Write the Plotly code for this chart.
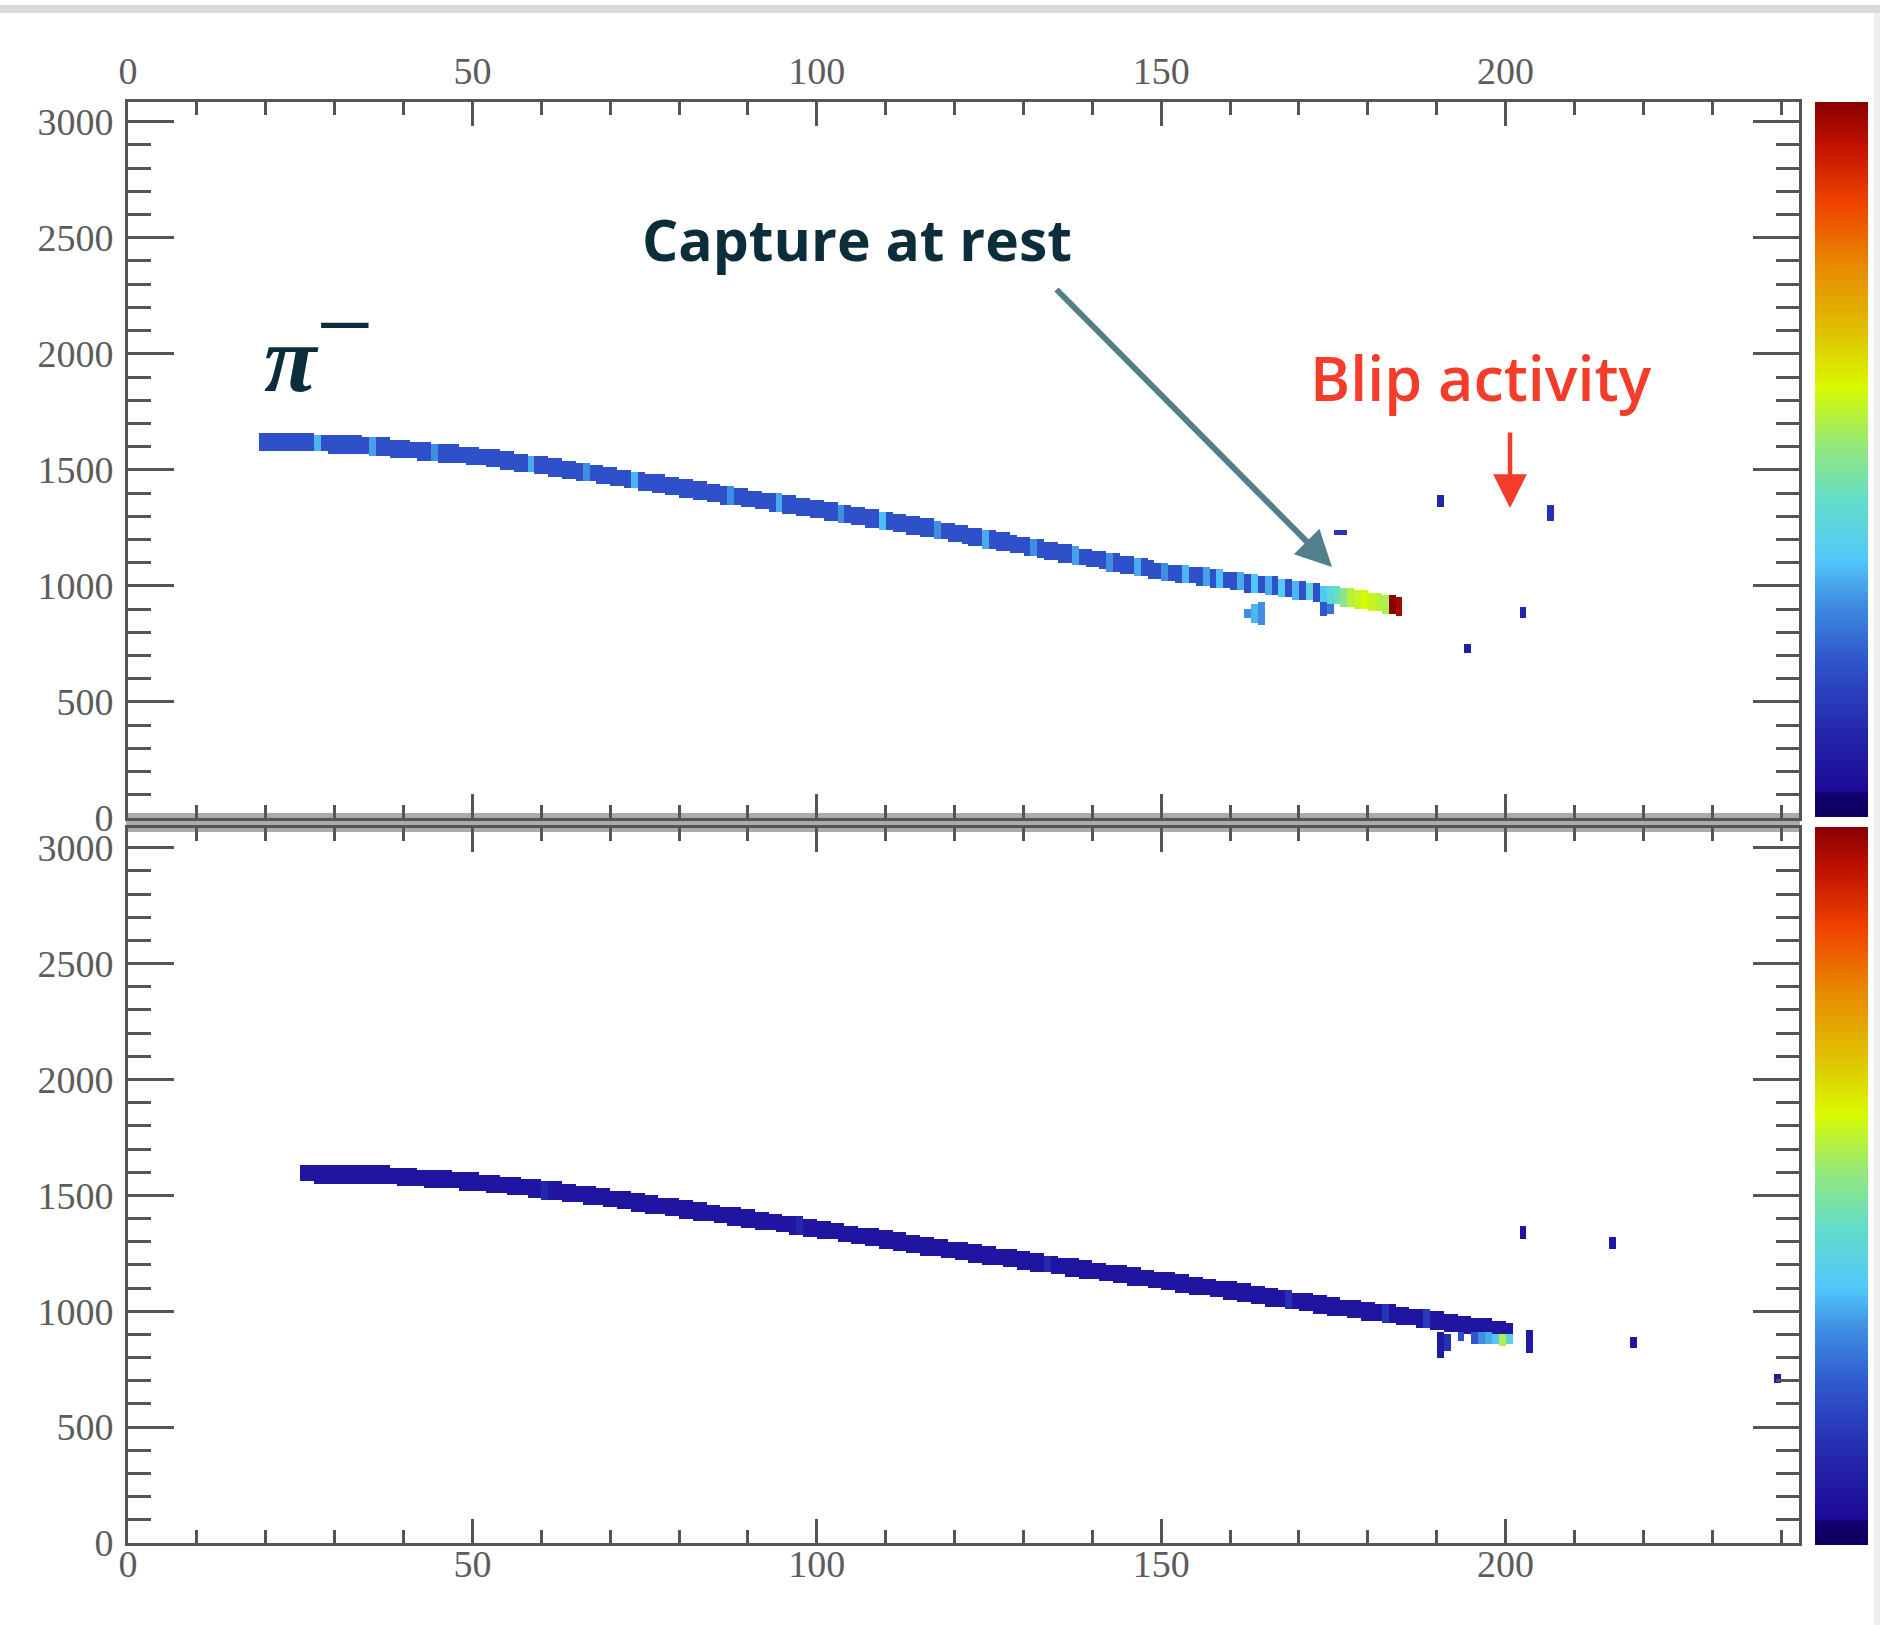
import plotly.graph_objects as go

W, H = 1880, 1625

# ---------------- data ----------------
# Upper view: one hit per wire along the pi- track (wire -> drift tick of hit centre)
top_wires = list(range(19, 185))
top_ticks = [
    1622, 1621, 1620, 1620, 1619, 1618, 1617, 1616, 1615, 1614, 1613, 1612, 1611, 1610,
    1607, 1604, 1601, 1598, 1596, 1593, 1590, 1587, 1584, 1581, 1578, 1575, 1572, 1569, 1566, 1564, 1561, 1558,
    1554, 1550, 1546, 1541, 1537, 1533, 1529, 1524, 1520, 1516, 1512, 1508,
    1503, 1498, 1493, 1489, 1484, 1479, 1474, 1469, 1465, 1460, 1455, 1450, 1445, 1441, 1436, 1431, 1426, 1421, 1417, 1412,
    1407, 1403, 1398, 1393, 1388, 1384, 1379, 1374, 1370, 1365, 1360, 1356, 1351, 1346, 1341, 1337, 1332, 1327,
    1322, 1317, 1312, 1307, 1303, 1298, 1293, 1288, 1283, 1278, 1273, 1268,
    1263, 1257, 1252, 1246, 1241, 1235, 1230, 1224, 1219, 1213, 1208, 1202, 1197, 1191, 1186, 1180, 1175, 1169, 1164,
    1158, 1153, 1147, 1142, 1136, 1131, 1125, 1120, 1114, 1109, 1103, 1098, 1092, 1087, 1081, 1076, 1070, 1065, 1059,
    1055, 1051, 1048, 1044, 1040, 1036, 1032, 1029, 1025, 1021, 1017, 1013, 1010,
    1005, 1001, 996, 992, 987, 983, 978, 974, 969, 965, 960, 956, 951, 947,
    942, 937, 932, 927, 922, 917, 912,
]
top_base_charge = 0.21
top_hot_wires = [27, 35, 44, 58, 66, 73, 87, 94, 103, 109, 117, 124, 131, 137, 142, 146, 150, 153, 156, 158,
                 161, 163, 165, 167, 169, 171, 173, 174, 175, 176, 177, 178, 179, 180, 181, 182, 183, 184]
top_hot_charge = [0.34, 0.32, 0.3, 0.33, 0.3, 0.34, 0.3, 0.33, 0.3, 0.35, 0.3, 0.33, 0.3, 0.32, 0.3, 0.33, 0.3, 0.34, 0.32, 0.35,
                  0.33, 0.36, 0.33, 0.37, 0.34, 0.4, 0.36, 0.42, 0.45, 0.5, 0.56, 0.58, 0.6, 0.58, 0.56, 0.55, 1.0, 0.97]
# isolated depositions (wire, tick, charge, half height in ticks)
top_blip_wires = [162, 163, 164, 173, 174, 175, 176, 190, 202, 194, 206]
top_blip_ticks = [880, 880, 878, 905, 905, 1228, 1228, 1362, 884, 728, 1315]
top_blip_charge = [0.3, 0.34, 0.3, 0.22, 0.26, 0.15, 0.15, 0.12, 0.12, 0.1, 0.14]
top_blip_half = [14, 32, 42, 30, 25, 6, 6, 22, 20, 18, 30]

# Lower view
bot_wires = list(range(25, 201))
bot_ticks = [
    1594, 1594, 1593, 1593, 1593, 1592, 1592, 1591, 1591, 1590, 1589, 1588,
    1586, 1584, 1582, 1580, 1577, 1575, 1573, 1571, 1569, 1567, 1565, 1563, 1561, 1559,
    1555, 1552, 1548, 1545, 1541, 1537, 1534, 1530, 1527, 1523, 1519, 1516, 1512, 1509, 1505, 1501, 1498, 1494,
    1490, 1485, 1481, 1476, 1472, 1468, 1463, 1459, 1454, 1450, 1446, 1441, 1437, 1432, 1428, 1424, 1419, 1415,
    1411, 1406, 1402, 1397, 1393, 1389, 1384, 1380, 1375, 1371, 1367, 1362, 1358, 1353,
    1348, 1344, 1339, 1335, 1330, 1325, 1321, 1316, 1311, 1307, 1302, 1297, 1293, 1288, 1283, 1279, 1274, 1269, 1265, 1260,
    1256, 1251, 1247, 1243, 1238, 1234, 1230, 1226, 1221, 1217, 1213, 1208, 1204, 1200, 1195,
    1191, 1187, 1182, 1178, 1174, 1170, 1165, 1161, 1157, 1152, 1148, 1144, 1139, 1135, 1131,
    1126, 1122, 1117, 1113, 1108, 1104, 1099, 1095, 1090, 1086, 1081, 1077, 1072, 1068, 1063, 1059, 1054, 1050, 1045,
    1041, 1036, 1032, 1027,
    1023, 1019, 1015, 1011, 1007, 1002, 998, 994, 990, 986, 982, 978, 974, 970, 966, 961, 957,
    953, 948, 944, 940, 935, 931, 927, 922, 918, 914,
]
bot_base_charge = 0.07
bot_hot_wires = [60, 97, 133, 168, 182, 188]
bot_hot_charge = [0.12, 0.12, 0.13, 0.14, 0.15, 0.16]
bot_blip_wires = [202, 215, 203, 218, 239, 190, 191, 193, 195, 196, 197, 198, 199, 200]
bot_blip_ticks = [1336, 1293, 871, 862, 711, 858, 865, 890, 886, 884, 882, 880, 876, 878]
bot_blip_charge = [0.07, 0.08, 0.08, 0.07, 0.08, 0.08, 0.14, 0.2, 0.22, 0.3, 0.33, 0.36, 0.55, 0.4]
bot_blip_half = [24, 20, 42, 20, 12, 50, 30, 18, 18, 18, 18, 18, 18, 18]

x_tick_vals = [0, 50, 100, 150, 200]
y_tick_vals = [0, 500, 1000, 1500, 2000, 2500, 3000]

# ---------------- styling ----------------
X_MAX, Y_MAX = 242.6, 3085
NX = 243
HIT_HALF = 34
Y_LO, Y_HI, DY = 600, 1700, 10
CS = [
    [0.0, "#0c005e"], [0.033, "#12006e"], [0.036, "#1c0a98"], [0.12, "#2426ac"],
    [0.22, "#2f56cc"], [0.30, "#3f8ee2"], [0.36, "#52c8fa"], [0.44, "#62dccb"],
    [0.52, "#95e87a"], [0.60, "#d8fa00"], [0.68, "#e0c000"], [0.77, "#e88a00"],
    [0.86, "#f04200"], [0.94, "#c01200"], [1.0, "#880000"],
]
AX = "#555555"
TICKFONT = dict(family="Liberation Serif", size=38, color="#5c5c5c")


def build_grid(wires, ticks, charges, half):
    ny = (Y_HI - Y_LO) // DY
    z = [[None] * NX for _ in range(ny)]
    for w, t, q, hh in zip(wires, ticks, charges, half):
        r0 = max(0, int((t - hh - Y_LO) // DY))
        r1 = min(ny - 1, int((t + hh - Y_LO) // DY))
        for r in range(r0, r1 + 1):
            if z[r][w] is None or z[r][w] < q:
                z[r][w] = q
    return z


def panel_hits(wires, ticks, base, hot_w, hot_q, bw, bt, bq, bh):
    hot = dict(zip(hot_w, hot_q))
    q = [hot.get(w, base) for w in wires]
    return (list(wires) + bw, list(ticks) + bt, q + bq, [HIT_HALF] * len(wires) + bh)


z_top = build_grid(*panel_hits(top_wires, top_ticks, top_base_charge, top_hot_wires, top_hot_charge,
                               top_blip_wires, top_blip_ticks, top_blip_charge, top_blip_half))
z_bot = build_grid(*panel_hits(bot_wires, bot_ticks, bot_base_charge, bot_hot_wires, bot_hot_charge,
                               bot_blip_wires, bot_blip_ticks, bot_blip_charge, bot_blip_half))

fig = go.Figure()
fig.add_trace(go.Heatmap(z=z_top, x0=0.5, dx=1, y0=Y_LO + DY / 2, dy=DY, coloraxis="coloraxis",
                         xaxis="x", yaxis="y", hoverinfo="skip"))
fig.add_trace(go.Heatmap(z=z_bot, x0=0.5, dx=1, y0=Y_LO + DY / 2, dy=DY, coloraxis="coloraxis2",
                         xaxis="x2", yaxis="y2", hoverinfo="skip"))


def px_x(v):
    return v / W


def px_y(v):
    return 1 - v / H


def xaxis(side, anchor, standoff):
    return dict(domain=[px_x(128), px_x(1799)], range=[0, X_MAX], side=side, anchor=anchor,
                tickvals=x_tick_vals, ticks="inside", ticklen=24, tickwidth=2.5, tickcolor=AX,
                minor=dict(dtick=10, tick0=0, ticks="inside", ticklen=13, tickwidth=2.5, tickcolor=AX),
                showline=True, linecolor=AX, linewidth=3, mirror="allticks", automargin=False,
                showgrid=False, zeroline=False, tickfont=TICKFONT, ticklabelstandoff=standoff)


def yaxis(dom, anchor):
    return dict(domain=dom, range=[0, Y_MAX], anchor=anchor,
                tickvals=y_tick_vals, ticks="inside", ticklen=46, tickwidth=2.5, tickcolor=AX,
                minor=dict(dtick=100, tick0=0, ticks="inside", ticklen=23, tickwidth=2.5, tickcolor=AX),
                showline=True, linecolor=AX, linewidth=3, mirror="allticks", automargin=False,
                showgrid=False, zeroline=False, tickfont=TICKFONT, ticklabelstandoff=4)


def cbar(top_px, len_px):
    return dict(x=px_x(1815), xanchor="left", xpad=0, y=px_y(top_px), yanchor="top", ypad=0,
                len=len_px, lenmode="pixels", thickness=53, thicknessmode="pixels",
                outlinewidth=0, showticklabels=False, ticks="")


fig.update_layout(
    width=W, height=H, margin=dict(l=0, r=0, t=0, b=0, autoexpand=False),
    paper_bgcolor="white", plot_bgcolor="rgba(0,0,0,0)", showlegend=False,
    xaxis=xaxis("top", "y", 0),
    xaxis2=xaxis("bottom", "y2", -15) | dict(matches="x"),
    yaxis=yaxis([px_y(818), px_y(102)], "x"),
    yaxis2=yaxis([px_y(1543), px_y(828)], "x2"),
    coloraxis=dict(colorscale=CS, cmin=0, cmax=1, colorbar=cbar(102, 715)),
    coloraxis2=dict(colorscale=CS, cmin=0, cmax=1, colorbar=cbar(827, 718)),
)

# frame decorations
fig.add_shape(type="rect", xref="paper", yref="paper", x0=px_x(126), x1=px_x(1800), y0=px_y(832), y1=px_y(813),
              fillcolor="#ababab", line_width=0, layer="below")
fig.add_shape(type="rect", xref="paper", yref="paper", x0=0, x1=1, y0=px_y(13), y1=px_y(5),
              fillcolor="#d9d9d9", line_width=0, layer="below")
fig.add_shape(type="rect", xref="paper", yref="paper", x0=px_x(1874), x1=1, y0=0, y1=px_y(13),
              fillcolor="#eeeeee", line_width=0, layer="below")

# text annotations
DARK = "#0b2e3a"
RED = "#f43c2b"
fig.add_annotation(xref="paper", yref="paper", x=px_x(291), y=px_y(358), text="<b><i>π</i></b>", showarrow=False,
                   font=dict(family="Liberation Serif", size=96, color=DARK), xanchor="center", yanchor="middle")
fig.add_annotation(xref="paper", yref="paper", x=px_x(345), y=px_y(324), text="−", showarrow=False,
                   font=dict(family="Liberation Serif", size=102, color=DARK), xanchor="center", yanchor="middle")
fig.add_annotation(xref="paper", yref="paper", x=px_x(857), y=px_y(239), text="Capture at rest", showarrow=False,
                   font=dict(family="Open Sans", size=57, color=DARK, weight=700), xanchor="center", yanchor="middle")
fig.add_annotation(xref="paper", yref="paper", x=px_x(1481), y=px_y(377), text="Blip activity", showarrow=False,
                   font=dict(family="Open Sans", size=61, color=RED, weight=600), xanchor="center", yanchor="middle")

# arrows
fig.add_annotation(xref="paper", yref="paper", x=px_x(1332), y=px_y(567), axref="pixel", ayref="pixel",
                   ax=1055 - 1332, ay=288 - 567, text="", showarrow=True, arrowhead=2, arrowsize=1.2,
                   arrowwidth=6, arrowcolor="#537f8c", standoff=0)
fig.add_annotation(xref="paper", yref="paper", x=px_x(1510), y=px_y(508), axref="pixel", ayref="pixel",
                   ax=0, ay=431 - 508, text="", showarrow=True, arrowhead=2, arrowsize=1.5,
                   arrowwidth=4.5, arrowcolor=RED, standoff=0)

fig.write_html("out.html")
